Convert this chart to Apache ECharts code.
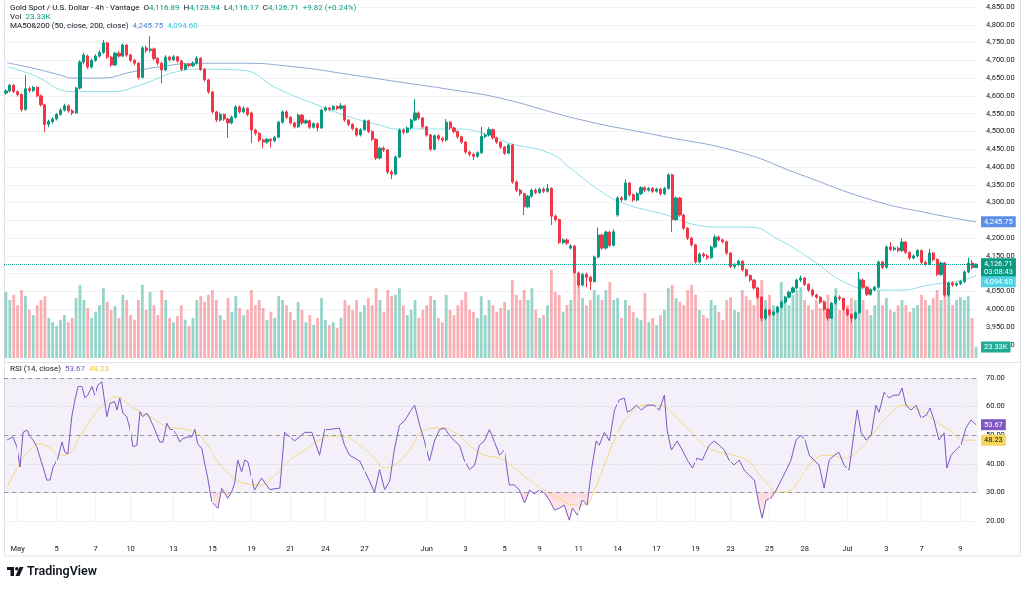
<!DOCTYPE html>
<html>
<head>
<meta charset="UTF-8" />
<title>Gold Spot / U.S. Dollar - 4h</title>
<script src="https://cdn.jsdelivr.net/npm/echarts@6/dist/echarts.min.js"></script>
<style>
  html, body { margin: 0; padding: 0; background: #ffffff; }
  #main { width: 1024px; height: 590px; }
</style>
</head>
<body>
<div id="main"></div>
<script>
// 4h candles, [open, close, low, high]
const candles = [
  [4608,4614,4603,4618],[4614,4630,4610,4634],[4630,4612,4608,4633],[4612,4604,4598,4616],[4604,4562,4556,4607],
  [4562,4620,4558,4659],[4620,4615,4609,4626],[4615,4624,4611,4628],[4624,4600,4596,4627],[4600,4575,4570,4604],
  [4575,4520,4498,4578],[4520,4528,4512,4533],[4528,4535,4522,4540],[4535,4548,4531,4552],[4548,4560,4544,4566],
  [4560,4572,4556,4578],[4572,4558,4553,4576],[4558,4552,4546,4563],[4552,4622,4550,4626],[4622,4695,4618,4700],
  [4695,4715,4690,4722],[4712,4681,4676,4716],[4681,4700,4677,4705],[4700,4712,4696,4717],[4712,4722,4707,4728],
  [4722,4749,4718,4757],[4749,4709,4704,4752],[4709,4687,4682,4713],[4687,4720,4684,4724],[4720,4712,4707,4726],
  [4712,4743,4709,4748],[4743,4715,4710,4746],[4715,4700,4695,4719],[4700,4692,4686,4704],[4692,4652,4646,4695],
  [4652,4735,4649,4740],[4735,4728,4721,4741],[4728,4732,4722,4768],[4732,4705,4700,4736],[4705,4692,4686,4709],
  [4692,4673,4636,4696],[4673,4709,4670,4714],[4709,4702,4697,4713],[4702,4710,4698,4715],[4710,4698,4693,4713],
  [4698,4675,4670,4701],[4675,4688,4672,4692],[4688,4685,4680,4692],[4685,4692,4681,4697],[4692,4706,4688,4712],
  [4706,4675,4670,4709],[4675,4645,4640,4678],[4645,4611,4606,4648],[4611,4555,4550,4614],[4555,4532,4526,4558],
  [4532,4548,4528,4553],[4548,4535,4530,4551],[4535,4524,4482,4539],[4524,4540,4520,4545],[4540,4569,4536,4574],
  [4569,4555,4550,4573],[4555,4565,4551,4570],[4565,4548,4543,4568],[4552,4504,4467,4556],[4504,4495,4489,4508],
  [4495,4476,4470,4498],[4476,4470,4453,4480],[4470,4478,4465,4482],[4478,4474,4455,4481],[4474,4484,4470,4488],
  [4484,4526,4481,4530],[4526,4555,4522,4560],[4555,4540,4535,4559],[4540,4524,4519,4543],[4524,4513,4508,4527],
  [4513,4546,4510,4550],[4546,4524,4519,4549],[4524,4530,4520,4534],[4530,4512,4507,4533],[4512,4522,4508,4526],
  [4522,4510,4500,4525],[4510,4560,4507,4564],[4560,4566,4556,4571],[4566,4562,4557,4570],[4562,4570,4558,4574],
  [4570,4565,4560,4573],[4565,4572,4561,4580],[4572,4532,4527,4575],[4532,4520,4515,4535],[4520,4508,4503,4523],
  [4508,4490,4485,4511],[4490,4505,4486,4509],[4505,4530,4502,4534],[4530,4500,4495,4533],[4500,4478,4473,4503],
  [4478,4425,4420,4481],[4425,4453,4421,4457],[4453,4448,4442,4458],[4448,4386,4380,4451],[4386,4380,4366,4392],
  [4380,4428,4377,4432],[4428,4504,4425,4508],[4504,4498,4492,4508],[4498,4510,4494,4514],[4510,4532,4506,4536],
  [4532,4552,4528,4591],[4552,4538,4533,4556],[4538,4513,4508,4541],[4513,4490,4485,4516],[4490,4450,4445,4493],
  [4450,4488,4447,4492],[4488,4480,4474,4492],[4480,4476,4470,4485],[4476,4526,4472,4535],[4526,4510,4505,4529],
  [4510,4500,4495,4513],[4500,4485,4480,4503],[4485,4470,4465,4488],[4470,4442,4437,4473],[4442,4436,4430,4446],
  [4436,4430,4420,4440],[4430,4440,4426,4444],[4440,4486,4437,4513],[4486,4490,4481,4495],[4490,4505,4486,4512],
  [4505,4482,4477,4508],[4482,4470,4465,4485],[4470,4456,4451,4473],[4456,4439,4434,4459],[4439,4462,4436,4466],
  [4462,4358,4353,4465],[4358,4335,4330,4362],[4335,4325,4318,4339],[4325,4288,4265,4328],[4288,4318,4284,4322],
  [4318,4335,4314,4339],[4335,4328,4323,4340],[4328,4338,4324,4342],[4338,4332,4327,4343],[4332,4340,4328,4352],
  [4340,4262,4237,4343],[4262,4252,4246,4266],[4252,4188,4183,4255],[4188,4195,4183,4200],[4195,4186,4180,4199],
  [4172,4178,4168,4183],[4178,4102,4097,4181],[4102,4068,4062,4106],[4068,4098,4064,4102],[4098,4090,4062,4103],
  [4090,4078,4054,4094],[4078,4147,4075,4151],[4147,4209,4143,4230],[4209,4172,4167,4213],[4172,4217,4168,4221],
  [4217,4180,4175,4220],[4180,4218,4177,4225],[4265,4313,4260,4318],[4313,4308,4302,4318],[4308,4355,4305,4365],
  [4355,4322,4317,4358],[4322,4307,4302,4326],[4307,4325,4303,4329],[4325,4342,4321,4346],[4342,4335,4330,4346],
  [4335,4340,4331,4344],[4340,4332,4327,4344],[4332,4338,4328,4342],[4338,4325,4320,4341],[4325,4340,4321,4344],
  [4340,4378,4336,4382],[4378,4252,4217,4381],[4252,4313,4248,4317],[4313,4265,4260,4316],[4265,4228,4223,4268],
  [4228,4200,4195,4231],[4200,4181,4176,4204],[4181,4133,4128,4184],[4133,4155,4129,4159],[4155,4150,4144,4160],
  [4150,4145,4139,4155],[4145,4175,4141,4179],[4175,4203,4171,4210],[4203,4195,4190,4207],[4195,4190,4185,4199],
  [4190,4158,4153,4193],[4158,4120,4115,4161],[4120,4125,4114,4130],[4125,4135,4121,4140],[4135,4111,4106,4138],
  [4111,4095,4090,4114],[4095,4082,4077,4098],[4082,4060,4055,4085],[4060,4034,4029,4063],[4034,3975,3965,4037],
  [3975,3998,3970,4002],[3998,3985,3980,4001],[3985,3992,3981,3996],[3992,4006,3988,4010],[4006,4020,4002,4024],
  [4020,4034,4016,4038],[4034,4048,4030,4052],[4048,4060,4044,4064],[4060,4082,4056,4086],[4082,4088,4076,4095],
  [4088,4070,4065,4091],[4070,4054,4049,4073],[4054,4040,4035,4057],[4040,4034,4029,4044],[4034,4020,4015,4037],
  [4020,4000,3995,4023],[4000,3975,3968,4003],[3975,4017,3972,4021],[4017,4034,4013,4038],[4034,4030,4024,4039],
  [4030,4000,3995,4033],[4000,3985,3980,4003],[3985,3975,3962,3988],[3975,3990,3971,3994],[3990,4082,3987,4105],
  [4082,4062,4057,4086],[4062,4042,4037,4065],[4042,4055,4038,4059],[4055,4062,4051,4066],[4062,4133,4058,4137],
  [4133,4118,4113,4136],[4118,4175,4114,4180],[4175,4168,4163,4189],[4168,4172,4164,4177],[4172,4165,4160,4176],
  [4165,4189,4161,4200],[4189,4160,4155,4192],[4160,4144,4139,4163],[4144,4150,4140,4154],[4150,4165,4146,4169],
  [4165,4132,4127,4168],[4132,4128,4123,4136],[4128,4158,4124,4170],[4158,4140,4135,4161],[4140,4098,4093,4143],
  [4098,4130,4094,4134],[4130,4040,4035,4133],[4040,4074,4036,4078],[4074,4068,4063,4078],[4068,4072,4064,4076],
  [4072,4078,4068,4082],[4078,4105,4074,4109],[4105,4130,4101,4145],[4130,4116.89,4112,4138],[4116.89,4126.71,4116.17,4128.94]
];

// volume in thousands, one per candle
const volumes = [
  140,123,134,112,144,131,102,91,112,123,
  131,85,76,68,81,91,76,85,127,155,
  123,106,85,98,112,148,119,102,110,85,
  134,123,91,81,123,155,102,140,112,91,
  144,123,85,76,89,112,81,68,85,123,
  131,119,134,144,123,91,81,127,98,131,
  106,91,102,144,112,123,106,81,98,85,
  131,123,112,98,81,119,102,76,91,70,
  85,127,81,70,76,64,85,123,112,102,
  123,98,112,127,112,148,123,98,144,131,
  134,148,112,91,102,123,85,102,112,131,
  123,85,76,134,102,91,112,123,140,102,
  98,85,131,91,123,112,98,106,119,102,
  165,134,123,144,123,148,102,85,91,112,
  187,140,134,98,112,123,176,155,127,112,
  123,144,134,123,144,161,123,127,85,123,
  112,98,85,81,138,76,85,70,91,102,
  148,155,127,119,112,144,155,134,102,91,
  85,123,112,98,81,123,129,102,98,144,
  131,123,112,140,165,123,134,112,98,161,
  123,112,134,144,150,123,112,102,123,106,
  123,134,112,148,102,123,112,127,123,170,
  123,102,91,112,144,112,127,102,98,112,
  123,112,98,106,112,134,123,112,127,144,
  123,148,134,112,123,129,123,131,85,23.33
];

// moving averages: [candle index, price]
const ma50Points = [
  [0.3,4682],[6.9,4659],[17.2,4612],[26.7,4612],[34.4,4630],[43.8,4668],[49.7,4675],[60,4673],
  [70.3,4617],[81.3,4569],[88.2,4541],[95.9,4518],[100.3,4507],[108,4507],[115.6,4507],[124.1,4490],
  [129.2,4467],[139.5,4439],[145.4,4392],[152.3,4335],[158.2,4299],[169.5,4265],[177.2,4237],[183.8,4231],
  [190.8,4231],[198.5,4195],[206.9,4139],[215.6,4074],[223.3,4054],[230,4054],[236.9,4068],[245.4,4082],[249,4094.6]
];
const ma200Points = [
  [0.3,4693],[6.9,4678],[13.8,4659],[17.2,4650],[24.1,4650],[32.6,4668],[39.5,4682],[49.7,4692],[60,4692],
  [75.4,4680],[88.2,4660],[101,4639],[114.6,4617],[126.7,4594],[147.9,4532],[166.9,4490],[188.2,4442],
  [203.6,4380],[222.3,4307],[236.9,4270],[249,4245.75]
];

// RSI (14) and its moving average: [candle index, value]
const rsiPoints = [
  [0.3,48.3],[1.8,49.4],[2.8,46],[3.6,38.9],[4.4,51],[5.4,51.8],[6.2,49.4],[6.9,48.5],[7.9,46],[8.7,42.4],
  [9.5,38.9],[10.5,34.3],[11.3,34.3],[12.1,38.9],[13.3,41.8],[14.4,47.6],[15.1,44.1],[15.9,43.5],[16.9,56.5],
  [17.7,62.3],[18.5,67],[19.5,67],[20.3,63],[21,64],[22.1,67],[22.8,64],[23.6,67.5],[24.6,68.7],[25.4,61.2],
  [25.9,56.5],[26.7,61.2],[27.9,61.7],[28.5,58.8],[29.2,63],[30,57.7],[31,56.5],[31.8,52.4],[32.6,46],
  [33.6,46.5],[34.4,58.2],[35.1,56.5],[36.2,57.7],[36.9,56],[38.2,52],[39.5,47.6],[40.3,47.6],[41.3,54.2],
  [42.1,52],[42.8,52],[43.8,50.2],[44.6,47.6],[45.4,48.8],[46.7,49.4],[47.7,49.4],[48.5,52],[49.2,47],
  [50.3,45.3],[51,40.2],[51.8,35],[52.8,26.8],[53.6,25.6],[54.4,24.4],[55.4,31.4],[56.2,29.6],[56.9,27.9],
  [57.9,30],[58.7,33.3],[59.5,41.3],[60.5,37.2],[61.3,41.3],[62.1,40.7],[63.8,30.8],[65.6,35],[67.7,31],
  [70.3,31.5],[71.5,51],[74.1,48],[76.7,51],[78.5,51],[80.5,43],[81.8,52],[83.1,52],[85.6,52.5],[86.9,46.5],
  [88.2,43],[90.8,41],[93.3,34],[94.6,30],[95.9,38],[97.2,31],[98.5,34],[99.7,45],[101,53.5],[102.3,55],
  [104.1,59],[104.9,60.5],[106.2,53.5],[107.4,48],[108.7,41],[110,48],[111.3,52],[112.6,52.5],[113.8,50],
  [115.1,48],[116.4,46.5],[117.7,41],[119,38],[120.3,39.5],[121.5,46.5],[122.8,48],[124.1,52],[125.4,47.6],
  [126.7,43],[127.9,44.8],[129.2,32.6],[130.5,32.6],[131.8,30.8],[133.1,26.3],[134.4,30.8],[135.6,29.5],
  [136.9,30.8],[138.2,29.8],[139.5,27.3],[140.8,23.8],[142.1,24.5],[143.3,25.6],[144.6,20.3],[145.4,24.5],
  [146.7,22],[147.9,27.3],[149.2,25.6],[150.3,38],[151.5,48],[152.3,46.5],[153.6,51],[154.9,48],[156.2,58.8],
  [157.4,62.3],[158.7,63],[159.5,58],[160.5,58.8],[161.8,60.5],[163.1,58.8],[164.6,60.5],[166.4,60.5],
  [167.7,58.8],[169,64],[169.7,51.8],[170.8,44.8],[172.3,48],[173.6,44.8],[174.9,41.3],[176.2,38.5],[177.4,42],
  [178.7,41.3],[180.5,46.5],[181.8,48],[183.1,46.5],[184.4,44.8],[185.6,41.3],[186.9,39.6],[188.2,41.3],
  [189.5,37.8],[190.8,36],[192.1,34.3],[193.3,25.6],[194.1,21],[195.1,27.3],[196.4,28],[197.7,30.8],[199,34.3],
  [200.3,37.8],[201.5,41.3],[202.8,48.3],[204.1,50],[205.1,48.3],[206.2,43],[207.4,41.3],[208.7,39.6],[210,31.5],
  [211.3,41.3],[212.6,43],[213.8,44],[215.1,39.6],[216.4,37.8],[217.7,51],[218.5,58.8],[219.5,51],[220.8,48.3],
  [222.1,50],[223.3,60.5],[224.1,58],[225.4,65],[226.7,63],[227.9,64],[229.2,64],[230,66.5],[231,60.5],
  [232.3,58.8],[233.6,60.5],[234.9,56],[236.2,57],[237.2,59.5],[238.2,55.3],[239.5,48.3],[240.8,50.8],
  [241.5,38.5],[242.6,43],[243.8,44.8],[245.1,46.5],[246.4,52.5],[247.7,55.3],[249,53.67]
];
const rsiMaPoints = [
  [0.3,31.8],[3.6,40.2],[6.2,44.8],[8.7,47],[11.3,45.5],[13.8,43],[16.4,43.8],[19,49.5],[22.3,56.5],[25.9,61.7],
  [28.5,63.5],[31,61.2],[33.6,58.8],[36.2,57],[38.7,55],[41.3,53],[43.8,52.5],[46.4,52],[49,50.8],[51.5,47],
  [54.1,41.3],[56.7,37.2],[59.2,34.3],[61.8,33],[65.1,32.6],[69,36],[72.8,41.3],[76.7,44.8],[80.5,48.3],
  [84.4,49.7],[86.9,49.5],[90.8,46.5],[94.6,42],[97.2,38.5],[99.7,39.6],[103.6,44.8],[107.4,51.8],[111.3,52.5],
  [115.1,51],[119,46.5],[122.8,43],[126.7,42],[130.5,38.5],[134.4,34.3],[138.2,30.8],[142.1,28],[145.9,25.6],
  [148.5,25.6],[151,30.8],[153.6,39.6],[156.2,48.3],[160,57],[163.8,60.5],[167.7,60.5],[171.5,57],[175.4,51.8],
  [179.2,46.5],[183.1,44],[186.9,43],[190.8,40.6],[194.6,34.3],[198.5,30.1],[201,30.5],[203.6,34.3],[207.4,41.3],
  [211.3,43],[215.1,42],[219,44.8],[222.8,51],[226.7,57],[230.5,60.5],[234.4,58.8],[238.2,55.3],[242.1,51.8],
  [246,48.3],[249,48.23]
];

// date labels on the time axis: candle index and text
const tickIdx = [3, 13, 23, 32, 43, 53, 63, 73, 82, 92, 108, 118, 128, 137, 147, 157, 167, 177, 186, 196, 205, 216, 226, 235, 245];
const tickText = ['May', '5', '7', '10', '13', '15', '19', '21', '24', '27', 'Jun', '3', '5', '9', '11', '14', '17', '19', '23', '25', '28', 'Jul', '3', '7', '9'];

const lastVolume = '23.33K';
const lastMa200 = 4245.75;
const lastMa50 = 4094.60;
const lastRsi = 53.67;
const lastRsiMa = 48.23;
const timeLeft = '03:08:43';

const UP = '#089981';
const DOWN = '#f23645';
const FONT = 'Roboto, "Noto Sans", sans-serif';
const TEXT = '#131722';
const GRIDLINE = '#f0f2f5';
const AXIS_FS = 7.5;
const LEG_FS = 8;
const N = candles.length;
const L = 4, R = 46;

const fmt2 = v => Number(v).toLocaleString('en-US', { minimumFractionDigits: 2, maximumFractionDigits: 2 });
const cats = candles.map((c, i) => String(i));
const labelAt = {};
tickIdx.forEach((k, j) => { labelAt[k] = tickText[j]; });

const last = candles[N - 1];
const prevClose = candles[N - 2][1];
const chg = last[1] - prevClose;
const chgPct = chg / prevClose * 100;

const volData = volumes.map((v, i) => ({
  value: v,
  itemStyle: { color: candles[i][1] >= candles[i][0] ? 'rgba(8,153,129,0.42)' : 'rgba(242,54,69,0.4)' }
}));

const chart = echarts.init(document.getElementById('main'));

const option = {
  animation: false,
  grid: [
    { left: L, right: R, top: 7, height: 337.8 },
    { left: L, right: R, top: 258, height: 100 },
    { left: L, right: R, top: 378, height: 143 },
    { left: L, right: R, top: 0, height: 535 }
  ],
  xAxis: [
    { type: 'category', gridIndex: 0, data: cats, show: false },
    { type: 'value', gridIndex: 0, min: -0.5, max: N - 0.5, show: false },
    { type: 'category', gridIndex: 1, data: cats, show: false },
    { type: 'value', gridIndex: 2, min: -0.5, max: N - 0.5, show: false },
    {
      type: 'category', gridIndex: 3, data: cats,
      axisLine: { show: false }, axisTick: { show: false }, splitLine: { show: false },
      axisLabel: {
        interval: (i) => labelAt[i] !== undefined,
        formatter: (v, i) => labelAt[i] || '',
        fontSize: AXIS_FS, color: TEXT, margin: 10, fontFamily: FONT
      }
    }
  ],
  yAxis: [
    {
      type: 'value', gridIndex: 0, position: 'right', min: 3900, max: 4850, interval: 50,
      axisLine: { show: false }, axisTick: { show: false },
      axisLabel: { fontSize: AXIS_FS, color: TEXT, margin: 8, fontFamily: FONT, formatter: fmt2 },
      splitLine: { lineStyle: { color: GRIDLINE, width: 1 } }
    },
    { type: 'value', gridIndex: 1, min: 0, max: 212, show: false },
    {
      type: 'value', gridIndex: 2, position: 'right', min: 20, max: 70, interval: 10,
      axisLine: { show: false }, axisTick: { show: false },
      axisLabel: { fontSize: AXIS_FS, color: TEXT, margin: 8, fontFamily: FONT, formatter: v => v.toFixed(2) },
      splitLine: { lineStyle: { color: GRIDLINE, width: 1 } }
    },
    { type: 'value', gridIndex: 3, min: 0, max: 1, show: false }
  ],
  series: [
    {
      // vertical grid lines at the date labels
      type: 'line', xAxisIndex: 4, yAxisIndex: 3, z: 0, silent: true,
      data: cats.map(() => null),
      markLine: {
        silent: true, symbol: 'none', label: { show: false },
        lineStyle: { color: GRIDLINE, type: 'solid', width: 1 },
        data: tickIdx.map(i => ({ xAxis: i }))
      }
    },
    {
      name: 'Volume', type: 'bar', xAxisIndex: 2, yAxisIndex: 1,
      data: volData, barWidth: '72%', z: 1
    },
    {
      name: 'MA200', type: 'line', xAxisIndex: 1, yAxisIndex: 0,
      data: ma200Points, smooth: true, showSymbol: false, z: 2,
      lineStyle: { color: '#8fa6d2', width: 1 }
    },
    {
      name: 'MA50', type: 'line', xAxisIndex: 1, yAxisIndex: 0,
      data: ma50Points, smooth: true, showSymbol: false, z: 2,
      lineStyle: { color: '#8fdfe8', width: 1 }
    },
    {
      name: 'XAUUSD', type: 'candlestick', xAxisIndex: 0, yAxisIndex: 0, z: 3,
      data: candles, barWidth: '68%',
      itemStyle: { color: UP, color0: DOWN, borderColor: UP, borderColor0: DOWN, borderWidth: 1 },
      markLine: {
        silent: true, symbol: 'none', label: { show: false },
        lineStyle: { color: UP, type: 'dotted', width: 1 },
        data: [{ yAxis: last[1] }]
      }
    },
    {
      name: 'RSI', type: 'line', xAxisIndex: 3, yAxisIndex: 2,
      data: rsiPoints, showSymbol: false, z: 3,
      lineStyle: { color: '#7e57c2', width: 1 },
      markArea: {
        silent: true,
        itemStyle: { color: 'rgba(126,87,194,0.09)' },
        data: [[{ yAxis: 30 }, { yAxis: 70 }]]
      },
      markLine: {
        silent: true, symbol: 'none', label: { show: false },
        lineStyle: { color: '#9598a1', type: [4, 4], width: 1 },
        data: [{ yAxis: 70 }, { yAxis: 50 }, { yAxis: 30 }]
      }
    },
    {
      name: 'RSI MA', type: 'line', xAxisIndex: 3, yAxisIndex: 2,
      data: rsiMaPoints, smooth: true, showSymbol: false, z: 2,
      lineStyle: { color: '#f5d77a', width: 1 }
    }
  ]
};
chart.setOption(option);

// header legends, price-scale badges, oversold shading and frame
const py = v => chart.convertToPixel({ yAxisIndex: 0 }, v);
const vy = v => chart.convertToPixel({ yAxisIndex: 1 }, v);
const ry = v => chart.convertToPixel({ yAxisIndex: 2 }, v);

function badge(y, text, bg, fg) {
  return {
    type: 'text', x: 981, y: y, z: 100,
    style: {
      text: text, fill: fg, backgroundColor: bg, padding: [2, 3, 1, 3],
      fontSize: AXIS_FS, fontFamily: FONT, verticalAlign: 'middle', align: 'left', lineHeight: 8
    }
  };
}

function legend(y, text, rich) {
  return {
    type: 'text', x: 10, y: y, z: 100,
    style: { text: text, fontSize: LEG_FS, fontFamily: FONT, fill: TEXT, verticalAlign: 'middle', rich: rich }
  };
}

const rich = {
  t: { fill: TEXT, fontSize: LEG_FS, fontFamily: FONT },
  g: { fill: UP, fontSize: LEG_FS, fontFamily: FONT },
  b: { fill: '#4a7fe0', fontSize: LEG_FS, fontFamily: FONT },
  c: { fill: '#2fc6d8', fontSize: LEG_FS, fontFamily: FONT },
  p: { fill: '#7e57c2', fontSize: LEG_FS, fontFamily: FONT },
  y: { fill: '#f0c040', fontSize: LEG_FS, fontFamily: FONT }
};

const sign = chg >= 0 ? '+' : '';
const line1 = '{t|Gold Spot / U.S. Dollar · 4h · Vantage}  '
  + '{t|O}{g|' + fmt2(last[0]) + '}  {t|H}{g|' + fmt2(last[3]) + '}  {t|L}{g|' + fmt2(last[2]) + '}  {t|C}{g|'
  + fmt2(last[1]) + '}  {g|' + sign + chg.toFixed(2) + ' (' + sign + chgPct.toFixed(2) + '%)}';
const line2 = '{t|Vol}  {g|' + lastVolume + '}';
const line3 = '{t|MA50&200 (50, close, 200, close)}  {b|' + fmt2(lastMa200) + '}  {c|' + fmt2(lastMa50) + '}';
const line4 = '{t|RSI (14, close)}  {p|' + lastRsi.toFixed(2) + '}  {y|' + lastRsiMa.toFixed(2) + '}';

const closeY = py(last[1]);
const cyanY = Math.max(py(lastMa50), closeY + 17.5);

// pink fill between the RSI line and the 30 level, only where RSI is below 30
const yTop = ry(70), yBot = ry(20), y30 = ry(30);
const cut = (y30 - yTop) / (yBot - yTop);
chart.setOption({
  series: [
    {
      name: 'RSI oversold', type: 'line', xAxisIndex: 3, yAxisIndex: 2,
      data: rsiPoints, showSymbol: false, silent: true, z: 1,
      lineStyle: { width: 0, opacity: 0 },
      areaStyle: {
        origin: 30,
        color: new echarts.graphic.LinearGradient(0, yTop, 0, yBot, [
          { offset: 0, color: 'rgba(242,54,69,0)' },
          { offset: cut, color: 'rgba(242,54,69,0)' },
          { offset: cut + 0.001, color: 'rgba(242,54,69,0.28)' },
          { offset: 1, color: 'rgba(242,54,69,0.08)' }
        ], true)
      }
    }
  ],
  graphic: [
    {
      type: 'rect', z: 0, silent: true,
      shape: { x: 4.5, y: -1, width: 1016, height: 557 },
      style: { fill: 'none', stroke: '#e0e3eb', lineWidth: 1 }
    },
    {
      type: 'line', z: 0, silent: true,
      shape: { x1: 4.5, y1: 362.5, x2: 1020.5, y2: 362.5 },
      style: { stroke: '#e0e3eb', lineWidth: 1 }
    },
    legend(8, line1, rich),
    legend(17, line2, rich),
    legend(26, line3, rich),
    legend(369, line4, rich),
    badge(py(lastMa200), fmt2(lastMa200), '#5b8fe6', '#ffffff'),
    badge(closeY + 3.5, fmt2(last[1]) + '\n' + timeLeft, UP, '#ffffff'),
    badge(cyanY, fmt2(lastMa50), '#4dd3e3', '#ffffff'),
    badge(vy(23.33), lastVolume, '#22ab94', '#ffffff'),
    badge(ry(lastRsi), lastRsi.toFixed(2), '#7e57c2', '#ffffff'),
    badge(ry(lastRsiMa), lastRsiMa.toFixed(2), '#f7d65a', '#131722'),
    // TradingView mark
    {
      type: 'group', left: 7, top: 567, z: 100,
      children: [
        { type: 'rect', shape: { x: 0, y: 0, width: 7, height: 3 }, style: { fill: TEXT } },
        { type: 'rect', shape: { x: 3.5, y: 0, width: 3.5, height: 9 }, style: { fill: TEXT } },
        { type: 'circle', shape: { cx: 9.7, cy: 1.7, r: 1.7 }, style: { fill: TEXT } },
        { type: 'polygon', shape: { points: [[12.5, 0], [16.5, 0], [12.5, 9], [8.5, 9]] }, style: { fill: TEXT } }
      ]
    },
    {
      type: 'text', x: 27, y: 572, z: 100,
      style: { text: 'TradingView', fill: TEXT, fontSize: 12.5, fontWeight: 600, fontFamily: FONT, verticalAlign: 'middle' }
    }
  ]
});
</script>
</body>
</html>
